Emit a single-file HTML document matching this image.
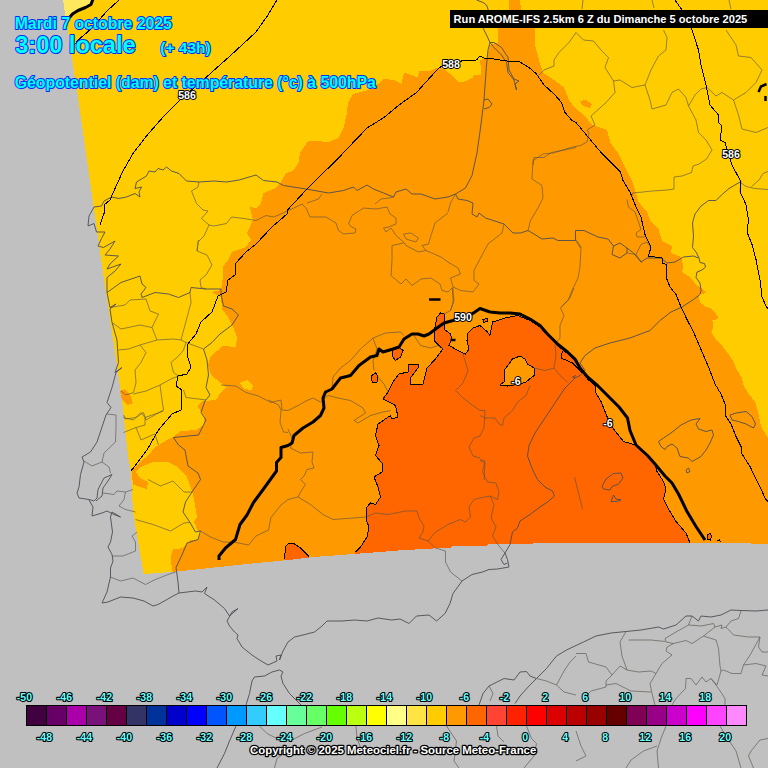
<!DOCTYPE html>
<html lang="fr"><head><meta charset="utf-8"><title>Meteociel - AROME 500hPa</title>
<style>html,body{margin:0;padding:0;background:#c0c0c0;overflow:hidden}svg{display:block}text{font-family:"Liberation Sans",sans-serif;font-weight:bold}.t{fill:#00ffff;stroke:#0030f4;stroke-width:2px;paint-order:stroke fill;stroke-linejoin:round}.w{fill:#fff;stroke:#000;stroke-width:2px;paint-order:stroke fill;stroke-linejoin:round}.c{fill:#66ffff;stroke:#000;stroke-width:2.2px;paint-order:stroke fill;stroke-linejoin:round;font-size:10.6px;text-anchor:middle}.b{fill:none;stroke:#4c4c54;stroke-opacity:.9;stroke-width:1;stroke-linejoin:round}.f{fill:none;stroke:#555048;stroke-opacity:.62;stroke-width:1;stroke-linejoin:round}.k{shape-rendering:crispEdges}</style></head><body>
<svg width="768" height="768" viewBox="0 0 768 768">
<rect width="768" height="768" fill="#c0c0c0"/>
<g shape-rendering="crispEdges">
<path d="M63,0 L70.5,48 L77.75,96 L82.3,128 L91.5,192 L100.7,256 L105.25,288 L115,352 L122,400 L128,456 L131,471 L133,512 L144,576 L173.5,573.5 L256,564.5 L288,561.5 L295.5,560.5 L313,558.5 L333,557 L353,555.5 L373,553.5 L398,552 L423,550.5 L453,549 L480,547.75 L532.5,547.75 L532.5,545.75 L751,545.5 L751,546.5 L768,546.5 L768,0Z" fill="#ffcc00"/>
<path d="M63,0 L93,0 L91,4.5 L85.5,7.5 L78,10.5 L72.5,14 L70,17 L65.5,17Z" fill="#ffe75e"/>
<path d="M250,207 L256,208 L261,203 L263.5,193 L276,188 L281,182 L286,173 L293.5,170.5 L298.5,163 L300,153 L308.5,140.5 L328.5,142 L338.5,138 L343.5,128 L346.7,114 L348,103 L353,94 L369,90 L380,82.7 L384,79 L394,80 L401.5,84 L404,72.5 L411.5,75 L418,77.5 L419,71 L430,71 L436.5,67.5 L444,69 L451.5,75 L459,82.5 L466.5,81 L473,77.5 L474,75 L481.5,75 L480,60 L483,59 L488,57.5 L489,45 L498,42.5 L498,20 L509,10 L509,0 L520,0 L521,10 L535,20 L535,45 L539,60 L543,72.5 L554,80 L564,87.5 L569,100 L576,109 L584,115 L592,125 L607,130 L610.5,143 L618,153 L625.5,168 L633,183 L638.5,202 L647,212 L651,222 L658.5,229.5 L662,241 L672,246 L671,253 L681,257 L683.5,267 L682,272 L691,278 L696,284.5 L701,288 L706,293 L698.5,294.5 L700,302.5 L706,307 L712,309 L717.5,316 L717.5,319 L712.5,320.5 L712.5,329 L711.5,332.5 L715,338 L722,345.5 L727.5,353 L733,361 L736.5,369 L742,378 L743,384 L748.5,394 L755,401.5 L758.5,414 L761,426.5 L768,438 L768,546.5 L751,546.5 L751,545.5 L532.5,545.75 L532.5,547.75 L480,547.75 L453,549 L423,550.5 L398,552 L373,553.5 L353,555.5 L333,557 L313,558.5 L295.5,560.5 L288,561.5 L256,564.5 L173.5,573.5 L172,569.5 L170.5,557 L173,549.5 L183,548 L187,543 L190.5,539.5 L198,539.5 L202,531 L198,531 L194,522 L197,517 L195,505 L193,494.5 L187,477 L178,467 L168,462 L153,462 L140.5,467 L135.5,472 L140.5,478 L148,482 L147,489 L133,484.5 L131.5,471 L140.5,462 L149,454.5 L155.5,447 L165.5,441 L173,437 L181,431 L196,430 L203.5,425 L203.5,415 L198.5,407.5 L198,405 L203,401 L216,400 L221,392 L226,387 L211,375 L208,365 L211,356 L223,346 L236,347 L237,337 L233,327 L228,317 L222,309 L221,297 L211,292 L221,290 L223,277 L223,267 L228,260 L232,252 L246,247 L251,240 L247,233 L253,220Z" fill="#ff9900"/>
<path d="M120,391 L125,389 L130,395 L133,403 L128,405 L122,400Z" fill="#ff9900"/>
<path d="M580,101 L586,100 L592,104 L590,108 L583,106Z" fill="#ff9900"/>
<path d="M240,383 L247,380 L253,385 L252,390 L244,389Z" fill="#ffcc00"/>
<path d="M355.5,552 L360.5,547 L367,537 L369,527 L366,519.5 L366,508 L370.5,503 L375.5,504.5 L380.5,497 L378,487 L374,477 L382,472 L382,463 L375.5,455.5 L379,445.5 L375.5,435.5 L378,424 L390.5,415.5 L392,419 L398,417 L395.5,405.5 L389,402 L383,399 L388,392 L393,382 L399,374 L408,372 L409,364 L418,364 L418,368 L410.5,378 L410.5,384 L423,384 L427,368 L435.5,359 L443,349 L440.5,347 L434,340.5 L434,332 L437,317 L440.5,313 L444,314 L444,323 L444,329 L450.5,334 L452,339 L449,345.5 L458,350.5 L465.5,354 L469,349 L467,340.5 L468,333 L473,328 L480,325.5 L487.5,332 L490,335.5 L492.5,322 L505,318 L517.5,315.5 L530,320.5 L540,327 L547.5,335.5 L557.5,345.5 L567.5,353.5 L575,360.5 L580,369 L587.5,379 L595,385.5 L596,393 L601,401.5 L607,416.5 L613.5,429 L623.5,441.5 L634,444.5 L637.5,447 L647.5,456.5 L655,464 L657,471.5 L663.5,481.5 L666,489 L663.5,499 L668.5,509 L676,521.5 L686,533 L690,543 L690,546 L532.5,545.75 L532.5,547.75 L480,547.75 L453,549 L423,550.5 L398,552 L373,553.5 L355,556Z" fill="#ff6600" stroke="#000" stroke-width="0"/>
<path d="M392,349 L399,347 L403,350.5 L400.5,357 L395.5,360.5 L392,355.5Z" fill="#ff6600" stroke="#000" stroke-width="1"/>
<path d="M372,375.5 L375.5,372.5 L378,377 L377,382 L373,383 L371,379Z" fill="#ff6600" stroke="#000" stroke-width="1"/>
<path d="M284,559.5 L286,546 L288,544 L293,543 L300.5,548 L309,556.5 L309,560 L284,562Z" fill="#ff6600"/>
<path d="M284,559.5 L286,546 L288,544 L293,543 L300.5,548 L309,556.5" fill="none" stroke="#000" stroke-width="1"/>
<path d="M500,385 L504,382 L504,370.5 L512.5,359 L520,356 L525,359 L527.5,364 L534,368 L534,375.5 L526,382 L520,384 L507.5,386Z" fill="#ff9900" stroke="#000" stroke-width="1"/>
<path d="M483,319.5 L487,318.5 L488,321 L484,322.5Z" fill="#ff6600" stroke="#000" stroke-width="1"/>
<path d="M707.5,535 L710,533.5 L711.5,536 L710.5,540 L708,539.5Z" fill="#ff6600" stroke="#000" stroke-width="1"/>
<path d="M717.5,541 L719.5,539.5 L720.5,542" fill="none" stroke="#000" stroke-width="1"/>
<path class="k" d="M355.5,552 L360.5,547 L367,537 L369,527 L366,519.5 L366,508 L370.5,503 L375.5,504.5 L380.5,497 L378,487 L374,477 L382,472 L382,463 L375.5,455.5 L379,445.5 L375.5,435.5 L378,424 L390.5,415.5 L392,419 L398,417 L395.5,405.5 L389,402 L383,399 L388,392 L393,382 L399,374 L408,372 L409,364 L418,364 L418,368 L410.5,378 L410.5,384 L423,384 L427,368 L435.5,359 L443,349 L440.5,347 L434,340.5 L434,332 L437,317 L440.5,313 L444,314 L444,323 L444,329 L450.5,334 L452,339 L449,345.5 L458,350.5 L465.5,354 L469,349 L467,340.5 L468,333 L473,328 L480,325.5 L487.5,332 L490,335.5 L492.5,322 L505,318 L517.5,315.5 L530,320.5 L540,327 L547.5,335.5 L557.5,345.5 L567.5,353.5 L575,360.5 L580,369 L587.5,379 L595,385.5 L596,393 L601,401.5 L607,416.5 L613.5,429 L623.5,441.5 L634,444.5 L637.5,447 L647.5,456.5 L655,464 L657,471.5 L663.5,481.5 L666,489 L663.5,499 L668.5,509 L676,521.5 L686,533 L690,543" fill="none" stroke="#000" stroke-width="1"/>
<path class="k" d="M562.5,351 L561,358 L572.5,363 L577.5,368 L582,373" fill="none" stroke="#000" stroke-width="1"/>
<path d="M143.5,574 L150.5,574 L150.5,573 L164,573 L164,572 L176.5,572 L176.5,571 L186,571 L186,570 L195.5,570 L195.5,569 L204.5,569 L204.5,568 L214,568 L214,567 L223.5,567 L223.5,566 L233,566 L233,565 L242,565 L242,564 L251.5,564 L251.5,563 L261.5,563 L261.5,562 L272.5,562 L272.5,561 L283,561 L283,560 L292.5,560 L292.5,559 L300.5,559 L300.5,558 L309,558 L309,557 L320,557 L320,556 L333.5,556 L333.5,555 L346.5,555 L346.5,554 L359.5,554 L359.5,553 L372.5,553 L372.5,552 L385.5,552 L385.5,551 L398,551 L398,550 L415,550 L415,549 L432.5,549 L432.5,548 L450.5,548 L450.5,547 L452,547 L452,546 L487,546 L487,545 L487.5,545 L487.5,544 L533,544 L533,543 L751,543 L751,544 L768,544 L768,600 L146.5,600 L143.5,575Z" fill="#c0c0c0"/>
</g>
<g class="f">
<path d="M199,182 L198,187 L191.5,191 L196.5,203.5 L203,210 L208,211 L201.5,218.5 L209,225 L204,236 L198,242 L197,251 L207,255 L212,265 L206,275 L200,280 L201,287.5 L206,289"/>
<path d="M209,225 L214,226 L226.5,223.5 L231.5,217 L244,218.5 L256,220.5 L266,215.5 L273.5,217 L281,214 L288.5,210.5 L296,207 L302,204 L306,208 L310,217 L326,217 L336,223 L338.5,230.5 L343.5,234 L355,233 L356,229 L352,227 L348.5,224 L352,215.5 L363.5,208 L376,209 L387,207 L390,214 L396,218 L396,224 L388.5,227 L383.5,228 L386,232 L391,228 L396,235.5 L403.5,242 L406,245.5 L418.5,252 L426,250.5 L441,257 L448,262 L458,268 L460.5,274 L450.5,278 L453,287 L460.5,290.5 L473,292 L479,284 L474,280.5 L474,270.5 L480.5,258 L488,244 L502,233 L504,224"/>
<path d="M307,203 L318.5,199 L322,194"/>
<path d="M375,204 L381,199 L388.5,198 L393.5,197"/>
<path d="M403.5,243 L392,245.5 L392,260.5 L391,275.5 L401,284 L406,279 L412,285.5 L421,279 L431,278 L440,284 L442,290.5 L448,292 L452,288"/>
<path d="M403.5,234 L411,233 L418.5,238 L416,242 L406,239 L403.5,234"/>
<path d="M448,213 L435,223 L431,235.5 L428.5,244 L422,245.5 L426,250.5"/>
<path d="M448,212 L450.5,203 L455.5,194"/>
<path d="M453,287 L453,303 L450.5,310.5 L444,314"/>
<path d="M627,253 L636,254.5 L642,263"/>
<path d="M636,254.5 L641,244.5 L647,242 L651,248"/>
<path d="M627,199.5 L628.5,207 L635,212 L638.5,222 L641,229.5 L636,233 L637,237 L645,237"/>
<path d="M576,239.5 L581,247 L580,267 L578,278 L572,290.5 L568,300.5 L560.5,308 L564,315.5 L560,325.5 L560,338 L555,344 L556,355.5 L554,368 L545,370.5 L534,368"/>
<path d="M574,288 L570,298 L561,307"/>
<path d="M554,368 L560,375.5 L567.5,382"/>
<path d="M575.5,240.5 L580.5,248"/>
<path d="M576,32.5 L569,42.5 L559,52.5 L554,60 L554,66 L544,70 L539,75"/>
<path d="M528,230.5 L530.5,220.5 L538,208 L543,198 L542,185.5 L532,179 L533,160.5 L543,154 L553,153 L573,147 L580.5,145.5 L587,142 L589,133 L587,130 L595,125 L591,116 L606,102.5 L615,92.5 L613.5,81 L605,67.5 L608.5,57.5 L601,50 L593.5,41 L583.5,40 L576,32.5"/>
<path d="M576,147.5 L564,150 L551.5,152.5 L544,157.5 L534,157.5 L533,165"/>
<path d="M613.5,81 L620,80 L632,87.5 L645,85 L651,70 L658.5,56 L666,50 L667,37.5 L663.5,30"/>
<path d="M645,85 L650,100 L652,109 L666,105 L672,92.5 L678.5,89 L686,97.5 L688.5,106 L695,95 L701,89 L707,87.5 L716,96 L722,92.5 L733.5,100 L746,92.5 L756,82.5 L762,70 L751,57.5 L738.5,56 L736,45 L726,30"/>
<path d="M688.5,106 L696,120 L698.5,132.5 L706,140 L712,150 L706.5,159 L699,164 L693,166 L691.5,172.5 L682,176 L674,177 L674,189 L667,190 L652,191 L643,192 L632.5,193 L631.5,197"/>
<path d="M733.5,100 L738.5,115 L742,129 L756,132.5 L768,127.5"/>
<path d="M740,182 L746,186.5 L755,188.5 L768,189.5"/>
<path d="M751.5,186.5 L759,180 L763,173.5 L768,171.5"/>
<path d="M741,181 L740,192"/>
<path d="M652,0 L654,8"/>
<path d="M729,0 L731,9"/>
<path d="M583,0 L582,9"/>
<path d="M198.5,240 L197,251"/>
<path d="M110,307.5 L125,305 L130,300 L146,299 L150,311 L158.5,314 L152,327.5 L157,340 L173.5,339 L181,340 L185,325 L191,302.5 L190,292.5"/>
<path d="M112,322.5 L121,329 L140,325 L152,327.5"/>
<path d="M157,340 L140,345 L128.5,349 L118.5,350"/>
<path d="M140,345 L146,352.5 L141,362.5 L135,370 L136,382.5 L133.5,392.5 L126,395 L121,391"/>
<path d="M181,340 L186,342.5 L203.5,349"/>
<path d="M186,342.5 L183.5,350 L178.5,356 L171,362.5 L173.5,372.5 L178.5,376 L171,379 L160,385 L146,391 L133.5,394"/>
<path d="M160,385 L162,400 L163.5,410 L146,420 L143.5,412.5 L136,417.5 L125,419 L123.5,415"/>
<path d="M183.5,390 L186,397.5 L198.5,399 L206,400"/>
<path d="M221,385 L236,386 L246,392.5 L258.5,396 L271,402.5 L281,400 L282,410 L288,410.5 L298,405.5 L307,400.5 L313,398 L320.5,402 L328,395.5 L338,398 L350.5,400.5 L363,408 L365.5,413 L354,420.5 L358,423 L370.5,415.5 L383,412 L390.5,410.5"/>
<path d="M281,410 L280,422.5 L283.5,432 L288,432.5"/>
<path d="M107,414 L116,415 L116,427.5 L115.5,442 L104,453 L102,462 L109,467 L110.5,473"/>
<path d="M84,461 L92,466 L102,462"/>
<path d="M123.5,417.5 L133.5,420 L141,412.5 L145,417.5 L163.5,411"/>
<path d="M123.5,432.5 L136,427.5 L141,440 L150,436 L155,434 L158.5,445"/>
<path d="M145,417.5 L145,425 L136,427.5"/>
<path d="M103,493 L114,494.5 L117,491 L125.5,492 L133,489.5"/>
<path d="M125.5,492 L124,499.5 L119,506 L125.5,509.5 L135.5,512"/>
<path d="M137,532 L132,536 L135.5,542 L135.5,551 L123,556 L112,556"/>
<path d="M110.5,577 L120.5,581 L133,578 L145.5,584.5 L155.5,579.5 L168,574.5 L175.5,572"/>
<path d="M135.5,519.5 L153,524.5 L170.5,531 L184,523 L190,522.5"/>
<path d="M148,479.5 L160.5,486 L173,481 L184,492 L192,492"/>
<path d="M200.5,531 L210.5,537 L223,542 L236,542.5 L248.5,545 L256,536 L268.5,530 L271,517.5 L281,505 L288,499.5 L298,497 L310.5,504.5 L323,514.5 L333,519.5 L353,518 L366,517 L375.5,513 L388,514.5 L395.5,513 L405.5,511 L417,511 L419,518 L424,526 L423,532 L419,538 L428,541 L435.5,548 L445.5,551 L445.5,562 L450.5,572 L462,581"/>
<path d="M428,541 L435.5,532 L448,524.5 L460.5,519.5 L465.5,522 L470.5,517 L469,507 L474,499.5 L480,498 L490,496 L497.5,499.5 L499,492 L496,483 L487.5,482 L482.5,472 L485,461 L480,459.5"/>
<path d="M490,496 L494,504.5 L491,518 L496,527 L492.5,536 L499,546 L505,553"/>
<path d="M268.5,400 L278.5,405 L281,410"/>
<path d="M332,388 L333,377 L340.5,368 L350.5,360.5 L360.5,349 L373,338 L385.5,333 L400.5,332 L404,335.5"/>
<path d="M373,338 L377,349 L373,360.5 L374,370.5"/>
<path d="M378,377 L384,384 L388,392"/>
<path d="M413,334 L420.5,345.5 L430.5,348 L438,345.5 L443,349"/>
<path d="M452,288 L454,300.5 L450.5,310.5"/>
<path d="M463,354 L468,370.5 L463,383 L455.5,390.5 L463,398 L473,405.5 L480,410.5 L485,410.5 L484,428 L480,436 L474,438 L469,447 L473,456 L480,458"/>
<path d="M288,429 L293,440.5 L290.5,448 L300.5,453 L313,452 L312,462 L314,468 L307,469.5 L304,476 L300.5,479.5 L305.5,484.5 L300.5,492 L298,497"/>
<path d="M530,385.5 L526,395.5 L517.5,402 L512.5,410.5 L504,418 L502.5,425.5 L499,424 L495,418 L485,418 L480,415.5"/>
<path d="M480,460.5 L485,463 L484,480"/>
<path d="M574.5,477 L582.5,509"/>
<path d="M259.5,726 L267,733.5 L277,738.5 L292,740 L304.5,733.5 L322,727"/>
<path d="M356,726 L357,738.5 L362,751"/>
<path d="M274.5,768 L277,758.5 L287,751"/>
<path d="M536.5,678.5 L546.5,681 L556.5,685 L564,692 L576,695"/>
<path d="M576,656 L570,662 L564,671 L556.5,685"/>
<path d="M489,686 L493,693.5 L490,701"/>
<path d="M496.5,726 L498,736 L504,742"/>
<path d="M526.5,726 L531.5,738.5 L536.5,743.5 L534,756 L524,768"/>
<path d="M446.5,726 L456.5,741 L454,761 L459,768"/>
<path d="M626,631.5 L620,642 L622,656 L627,670 L638.5,672 L651,671 L656,673.5 L662,663.5 L672,655 L666,651 L667,647 L673.5,643.5 L666,642 L665,638.5 L676,632 L688.5,625 L692,616"/>
<path d="M576,653.5 L586,653.5 L588.5,662 L606,667 L612,675 L620,666 L627,670"/>
<path d="M612,675 L606,681 L606,687 L591,691 L586,696"/>
<path d="M606,685 L616,683.5 L631,691 L651,692"/>
<path d="M656,673.5 L650,683.5 L652,693.5 L655,705"/>
<path d="M628.5,640 L651,640 L665,641.5"/>
<path d="M673.5,643.5 L686,640.5 L692,643.5 L703.5,636 L716,640 L718.5,648.5 L720,666 L721,671 L717,685 L711,678.5 L706,682 L702,677 L696,685 L691,678.5 L686,678.5 L685.5,688.5 L676,698.5 L672,705"/>
<path d="M703.5,636 L715,627 L722,625 L721,628.5 L726,627 L733.5,635 L748.5,637 L760,637 L758.5,647 L762,652 L768,652"/>
<path d="M688.5,625 L701,626 L713.5,623.5 L715,627"/>
<path d="M726,627 L731,621 L738.5,618.5 L741,611"/>
<path d="M760,637 L751,653.5 L743.5,665 L741,673.5 L732,673.5 L723.5,670 L721,671"/>
<path d="M743.5,665 L756,663.5 L766,666 L762,675 L768,676"/>
<path d="M711,678.5 L718.5,688.5 L725,698.5 L725,705"/>
<path d="M576,731 L581,746 L586,756 L576,761"/>
<path d="M666,726 L661,738.5 L657,751 L658.5,768"/>
<path d="M657,746 L643.5,751 L631,760 L626,768"/>
<path d="M720,726 L726,736 L736,751 L741,768"/>
<path d="M768,738.5 L760,740 L751,751 L748.5,756 L753.5,768"/>
</g>
<g class="b">
<path d="M448,197 L435,199 L421,194 L412,194 L406,189 L396,192 L393.5,197 L383.5,193 L373.5,189 L367,185 L357,190.5 L353.5,187 L343.5,190.5 L328.5,193 L306,189 L283.5,185.5 L277,182 L263.5,180.5 L256,175 L239,180 L226.5,182 L214,181 L199,182 L186.5,181 L179,173.5 L171.5,171 L166.5,167 L163,170 L158,168.5 L155,172 L149,171 L146.5,176 L136.5,182 L135,188.5 L141.5,187 L139,192 L140,197 L135,193.5 L126.5,197 L119,198.5 L111.5,197 L104,201 L101.5,206 L94,207 L89,216 L88,226 L94,223.5 L96.5,232 L105,232 L101.5,238.5 L98,246 L103.5,247.5 L115,241 L110,249 L105,255 L118.5,256 L110,264 L107,269 L121,264 L115,271 L107,277.5 L107,292.5 L110,307.5 L116,304 L110,309 L112,322.5 L117,340 L118.5,362.5 L115,372.5 L122,367.5 L116,372.5 L112,387.5 L107,402.5 L111,407.5 L106,415 L101,430 L97,442 L90.5,452 L82,457 L84,462 L80.5,474.5 L79,487 L77,493 L79,498 L89,499.5 L94,501 L97,498 L98,489.5 L104,478 L112,474.5 L108,481 L103,488 L102,496 L96,501"/>
<path d="M89,500 L93,507 L92,516 L102,513 L107,511 L114,514.5 L120.5,517 L112,512 L110.5,517 L112.5,532 L110.5,542 L108,547 L112,554.5 L113,561 L110.5,568 L110.5,577 L107,592 L102,603 L108,602 L120.5,597 L133,598 L144,601 L153,606 L158,604.5 L167,599.5 L173,596 L179,593 L195.5,591 L202,592 L207,587 L204.5,593.5 L214.5,600 L224.5,608.5 L229.5,616 L238,608.5 L232,612 L227,621 L229.5,626 L234.5,632 L238,635 L237,638.5 L242,647 L252,655 L259.5,660 L268,665 L277,661 L276,656 L281,655 L279.5,660 L283,651 L288,642 L294.5,637 L303,635 L314.5,632 L322,626 L327,621 L342,621 L354.5,620 L367,621 L378,618 L391.5,620 L400,619 L409,623.5 L416.5,616 L429,615 L436.5,621 L445,613.5 L450,603.5 L453,593.5 L462,581 L472,574.5 L482.5,572 L489,569.5 L497.5,569 L509,567 L507.5,559.5 L505,553 L510,544.5 L512.5,532 L517.5,528 L520,521 L530,514.5 L540,507 L547.5,502 L554.5,496 L552.5,491 L545,487 L537.5,479.5 L532.5,469.5 L527.5,456 L529,445.5 L535,433 L545,418 L555,403 L565,388 L575,378 L580,375.5 L585,370.5 L580,363 L585,355.5 L595,348 L610,343 L630,338 L650,330.5 L660,320.5 L671,312 L682,307 L693.5,299.5 L700,294.5 L701,290.5 L700,283 L696,277.5 L697,272 L702,270 L705.5,267 L704.5,263.5 L700,262.5 L699,258 L696,252 L692.5,247.5 L693.5,236 L692.5,223 L695,214 L701,206 L708.5,200.5 L716,200.5 L721.5,195 L729,188.5 L740,182"/>
<path d="M575,378 L572.5,377 L576,375.5"/>
<path d="M505,553 L501,559.5 L504,564.5 L507.5,563"/>
<path d="M107,292.5 L121,282.5 L140,276 L142,284 L146,287.5 L141,294 L142,297.5 L155,292.5 L168.5,294 L178.5,297.5 L190,292.5 L191,287.5 L206,289 L221,289 L221,294 L223.5,306 L232,309 L238.5,315 L232,325 L220,334 L212,342.5 L203.5,349 L207,360 L208.5,375 L206,387.5 L210,395 L205,401 L201,412.5 L206,420 L198.5,435 L173.5,437.5 L178.5,445 L185,450 L188,466 L198,473 L200.5,479.5 L192,492 L185.5,502 L183,512 L190,522.5 L195.5,532 L200.5,531 L198,539.5 L187,543 L182,555 L176,567.5 L178,582 L179,593"/>
<path d="M448,197 L455.5,194 L458,199 L467,200.5 L473,203 L472,214 L477,217 L479,213 L485.5,218 L504,224 L513,233 L520.5,233 L528,230.5 L534,234 L542,239 L553,238 L558,240.5 L575.5,240.5 L575.5,230.5 L584,230.5 L598,237 L608,239 L613.5,246 L620,243 L627,248 L633.5,253 L641,262 L647,258 L661,258 L667,263 L675,262 L683.5,257 L693.5,256 L698.5,258"/>
<path d="M613.5,246 L612,254.5 L620,258 L627,253 L627,248"/>
<path d="M476.5,0 L483,2.5 L486.5,5 L489,12 L485,20 L483,28 L486.5,35 L490,42.5 L488,50 L486.5,65 L484,100 L480.5,128 L477,153 L472,175.5 L465.5,188 L455.5,194"/>
<path d="M484,100 L488,99 L492,104 L489,107.5 L484,109"/>
<path d="M490,42.5 L494,47.5 L501.5,55 L506.5,62.5 L508,72.5 L514,80 L516.5,90 L515,84 L519,81 L514,79 L509,70 L508,57.5 L501.5,47.5 L494,42.5 L490,42.5"/>
<path d="M658.5,441.5 L663.5,438 L671,433 L681,425 L691,420 L700,418.5 L696,424 L698.5,429 L706,431.5 L712,430 L713.5,435 L710,443 L706,450 L701,456.5 L692,461.5 L688.5,458 L680,456.5 L677,448 L672,444 L667,446.5 L665,449.5 L661,446.5 L658.5,441.5"/>
<path d="M686,470 L688.5,468 L690,471.5 L687,473 L686,470"/>
<path d="M730,415 L736,413 L746,411.5 L752,416.5 L755.5,424 L753.5,428 L746,424 L738.5,421.5 L732,420 L730,415"/>
<path d="M602,486.5 L606,479 L613.5,473.5 L621,473 L623,478 L618.5,484 L612,486.5 L610,490 L603.5,489 L602,486.5"/>
<path d="M611,501.5 L613.5,495 L616,499 L621,500 L616,501.5 L611,501.5"/>
<path d="M217,768 L224.5,753.5 L229.5,741 L236,726 L246,705 L249.5,693.5 L252,681 L254.5,677 L264.5,676 L272,672 L279.5,670 L283,672 L281,676 L283,683.5 L289.5,693.5 L297,701 L301,705"/>
<path d="M479,705 L483,693.5 L489,686 L504,678.5 L514,680 L520,672 L526.5,671.5 L530,676 L536.5,678.5 L546.5,668.5 L556.5,656 L566.5,650 L576,645.5 L583.5,642 L596,636 L611,633 L626,631.5 L641,630 L658.5,627 L663.5,629 L676,625 L686,616 L692,616 L698.5,621 L701,616 L711,617 L721,615 L731,610 L741,610.5 L756,611 L768,610"/>
<path d="M536.5,678.5 L529,686 L520,696 L515,703.5"/>
</g>
<path class="k" d="M277,0 L268,15 L256,32 L230,56 L202,81 L180,100 L164,116 L146.5,136 L133,153.5 L123,171 L115,188.5 L110,200 L104,205 L104,213.5 L100,225" fill="none" stroke="#000" stroke-width="1"/>
<path class="k" d="M119,0 L107,11 L95.5,24 L87,32.5 L80.5,38 L72,47" fill="none" stroke="#000" stroke-width="1"/>
<path class="k" d="M675,0 L682,10 L692,30 L698.5,50 L701,65 L706,85 L710,105 L718.5,115 L718.5,122.5 L722,126 L720,140 L725,142.5 L727,150 L732,165 L740,180 L740,192 L746,204.5 L748.5,219.5 L747,232 L752,244.5 L756,259.5 L760,279.5 L762,297 L766,306 L768,309" fill="none" stroke="#000" stroke-width="1"/>
<path class="k" d="M131,471 L147,450 L158.5,430 L172,414 L181,410 L182,390 L176,386 L178,376 L187,374 L191,367 L187,355 L187,345 L196,334 L201,322 L212,312 L218,296 L226,292 L228,280 L235,275 L235,264 L246,252 L256,244 L272,227 L287,214 L287,210.5 L307,189 L338.5,158 L367,128 L384,117.5 L399,105 L416.5,92.5 L430,77.5 L438,69 L443,65 L461.5,61 L476.5,60 L480,56 L484,58 L494,59 L506.5,61 L520,62 L529,67.5 L536.5,74 L544,85 L554,94 L561.5,102.5 L565,112.5 L571.5,120 L576,122.5 L588.5,137.5 L601,152.5 L613.5,165 L620.5,172 L623,180.5 L630,192 L635,204.5 L641,217 L645,234.5 L651,247 L648.5,256 L662,258 L662,263 L666,264.5 L666,277 L670,287 L676,294.5 L681,307 L687,319.5 L693.5,332 L701,349.5 L708.5,367 L715,384 L721,394 L726,406.5 L725,415 L731,424 L736,436.5 L741,446.5 L742,454 L750,466.5 L756,479 L761,489 L765,498 L768,502" fill="none" stroke="#000" stroke-width="1"/>
<path d="M219,560 L219,556 L225.5,548 L235.5,539.5 L240,524.5 L247,515 L253.5,502.5 L263.5,489 L276.5,471 L276.5,462.5 L281,457.5 L281,447.5 L288,445.5 L292,443 L294,435.5 L303,428 L313,422 L320.5,415.5 L324,408 L323,398 L325.5,392 L332,389 L340.5,378 L350.5,375.5 L359,365.5 L370.5,357 L377,355.5 L379,349 L383,352 L393,349 L399,347 L404,339 L412,334 L418,334 L424,336 L429,334 L437,328 L444,323 L453,320.5 L472,314 L480,308.5 L490,312 L500,313 L510,313 L520,314 L530,319 L540,325.5 L547.5,334 L557.5,344 L567.5,352 L575,359 L580,368 L587.5,377 L597.5,385.5 L607.5,395.5 L619,407 L627.5,418 L630,430.5 L636,445 L647.5,455.5 L655,464 L665,476 L672,483 L678.5,494 L687,511.5 L696,526.5 L705,540" fill="none" stroke="#000" stroke-width="3" stroke-linejoin="round"/>
<path d="M69.5,17.5 L72.5,14 L78,10.5 L85.5,7.5 L91,4.5 L93,-1" fill="none" stroke="#000" stroke-width="3" stroke-linejoin="round"/>
<path d="M429,299.5 L440.5,299.5" fill="none" stroke="#000" stroke-width="2.5"/>
<path d="M450.5,340 L455.5,340" fill="none" stroke="#000" stroke-width="2.5"/>
<path d="M758.5,92 L761,86.5 L766.5,84" fill="none" stroke="#000" stroke-width="2.5"/>
<path d="M765.5,96 L765.5,101" fill="none" stroke="#000" stroke-width="2.5"/>
<text x="187" y="99" class="w" font-size="10.6" text-anchor="middle">586</text>
<text x="451" y="68" class="w" font-size="10.6" text-anchor="middle">588</text>
<text x="731" y="158" class="w" font-size="10.6" text-anchor="middle">586</text>
<text x="463" y="321" class="w" font-size="10.6" text-anchor="middle">590</text>
<text x="516" y="385" class="w" font-size="10.6" text-anchor="middle">-6</text>
<text x="608" y="427" class="w" font-size="10.6" text-anchor="middle">-6</text>
<rect x="26.5" y="705.5" width="20" height="20" fill="#400040" stroke="#000" stroke-width="1"/>
<rect x="46.5" y="705.5" width="20" height="20" fill="#660066" stroke="#000" stroke-width="1"/>
<rect x="66.5" y="705.5" width="20" height="20" fill="#aa00aa" stroke="#000" stroke-width="1"/>
<rect x="86.5" y="705.5" width="20" height="20" fill="#7a107a" stroke="#000" stroke-width="1"/>
<rect x="106.5" y="705.5" width="20" height="20" fill="#660044" stroke="#000" stroke-width="1"/>
<rect x="126.5" y="705.5" width="20" height="20" fill="#333366" stroke="#000" stroke-width="1"/>
<rect x="146.5" y="705.5" width="20" height="20" fill="#003399" stroke="#000" stroke-width="1"/>
<rect x="166.5" y="705.5" width="20" height="20" fill="#0000cc" stroke="#000" stroke-width="1"/>
<rect x="186.5" y="705.5" width="20" height="20" fill="#0000ff" stroke="#000" stroke-width="1"/>
<rect x="206.5" y="705.5" width="20" height="20" fill="#0055ff" stroke="#000" stroke-width="1"/>
<rect x="226.5" y="705.5" width="20" height="20" fill="#0099ff" stroke="#000" stroke-width="1"/>
<rect x="246.5" y="705.5" width="20" height="20" fill="#33ccff" stroke="#000" stroke-width="1"/>
<rect x="266.5" y="705.5" width="20" height="20" fill="#66ffff" stroke="#000" stroke-width="1"/>
<rect x="286.5" y="705.5" width="20" height="20" fill="#66ff99" stroke="#000" stroke-width="1"/>
<rect x="306.5" y="705.5" width="20" height="20" fill="#66ff66" stroke="#000" stroke-width="1"/>
<rect x="326.5" y="705.5" width="20" height="20" fill="#66ff00" stroke="#000" stroke-width="1"/>
<rect x="346.5" y="705.5" width="20" height="20" fill="#bbff11" stroke="#000" stroke-width="1"/>
<rect x="366.5" y="705.5" width="20" height="20" fill="#ffff00" stroke="#000" stroke-width="1"/>
<rect x="386.5" y="705.5" width="20" height="20" fill="#ffff88" stroke="#000" stroke-width="1"/>
<rect x="406.5" y="705.5" width="20" height="20" fill="#ffe444" stroke="#000" stroke-width="1"/>
<rect x="426.5" y="705.5" width="20" height="20" fill="#ffcc00" stroke="#000" stroke-width="1"/>
<rect x="446.5" y="705.5" width="20" height="20" fill="#ff9900" stroke="#000" stroke-width="1"/>
<rect x="466.5" y="705.5" width="20" height="20" fill="#ff6600" stroke="#000" stroke-width="1"/>
<rect x="486.5" y="705.5" width="20" height="20" fill="#ff4433" stroke="#000" stroke-width="1"/>
<rect x="506.5" y="705.5" width="20" height="20" fill="#ff2200" stroke="#000" stroke-width="1"/>
<rect x="526.5" y="705.5" width="20" height="20" fill="#ff0000" stroke="#000" stroke-width="1"/>
<rect x="546.5" y="705.5" width="20" height="20" fill="#dd0000" stroke="#000" stroke-width="1"/>
<rect x="566.5" y="705.5" width="20" height="20" fill="#bb0000" stroke="#000" stroke-width="1"/>
<rect x="586.5" y="705.5" width="20" height="20" fill="#990000" stroke="#000" stroke-width="1"/>
<rect x="606.5" y="705.5" width="20" height="20" fill="#660000" stroke="#000" stroke-width="1"/>
<rect x="626.5" y="705.5" width="20" height="20" fill="#800055" stroke="#000" stroke-width="1"/>
<rect x="646.5" y="705.5" width="20" height="20" fill="#990088" stroke="#000" stroke-width="1"/>
<rect x="666.5" y="705.5" width="20" height="20" fill="#cc00cc" stroke="#000" stroke-width="1"/>
<rect x="686.5" y="705.5" width="20" height="20" fill="#ff00ff" stroke="#000" stroke-width="1"/>
<rect x="706.5" y="705.5" width="20" height="20" fill="#ff44ff" stroke="#000" stroke-width="1"/>
<rect x="726.5" y="705.5" width="20" height="20" fill="#ff88ff" stroke="#000" stroke-width="1"/>
<text x="24.5" y="700.9" class="c">-50</text>
<text x="44.5" y="740.8" class="c">-48</text>
<text x="64.5" y="700.9" class="c">-46</text>
<text x="84.5" y="740.8" class="c">-44</text>
<text x="104.5" y="700.9" class="c">-42</text>
<text x="124.5" y="740.8" class="c">-40</text>
<text x="144.5" y="700.9" class="c">-38</text>
<text x="164.5" y="740.8" class="c">-36</text>
<text x="184.5" y="700.9" class="c">-34</text>
<text x="204.5" y="740.8" class="c">-32</text>
<text x="224.5" y="700.9" class="c">-30</text>
<text x="244.5" y="740.8" class="c">-28</text>
<text x="264.5" y="700.9" class="c">-26</text>
<text x="284.5" y="740.8" class="c">-24</text>
<text x="304.5" y="700.9" class="c">-22</text>
<text x="324.5" y="740.8" class="c">-20</text>
<text x="344.5" y="700.9" class="c">-18</text>
<text x="364.5" y="740.8" class="c">-16</text>
<text x="384.5" y="700.9" class="c">-14</text>
<text x="404.5" y="740.8" class="c">-12</text>
<text x="424.5" y="700.9" class="c">-10</text>
<text x="444.5" y="740.8" class="c">-8</text>
<text x="464.5" y="700.9" class="c">-6</text>
<text x="484.5" y="740.8" class="c">-4</text>
<text x="504.5" y="700.9" class="c">-2</text>
<text x="525.25" y="740.8" class="c">0</text>
<text x="545.25" y="700.9" class="c">2</text>
<text x="565.25" y="740.8" class="c">4</text>
<text x="585.25" y="700.9" class="c">6</text>
<text x="605.25" y="740.8" class="c">8</text>
<text x="625.25" y="700.9" class="c">10</text>
<text x="645.25" y="740.8" class="c">12</text>
<text x="665.25" y="700.9" class="c">14</text>
<text x="685.25" y="740.8" class="c">16</text>
<text x="705.25" y="700.9" class="c">18</text>
<text x="725.25" y="740.8" class="c">20</text>
<text x="250" y="754" class="w" style="stroke-width:2.6px" font-size="11.4">Copyright © 2025 Meteociel.fr - Source Meteo-France</text>
<rect x="450" y="10" width="318" height="18" fill="#000"/>
<text x="453.6" y="22.6" fill="#fff" font-size="11.1">Run AROME-IFS 2.5km 6 Z du Dimanche 5 octobre 2025</text>
<text x="14.7" y="28.7" class="t" font-size="15.8">Mardi 7 octobre 2025</text>
<text x="15.3" y="53.2" class="t" font-size="23.5">3:00 locale</text>
<text x="160.3" y="53" class="t" font-size="15.5">(+ 43h)</text>
<text x="14.8" y="88.2" class="t" font-size="15.8">Géopotentiel (dam) et température (°c) à 500hPa</text>
</svg></body></html>
